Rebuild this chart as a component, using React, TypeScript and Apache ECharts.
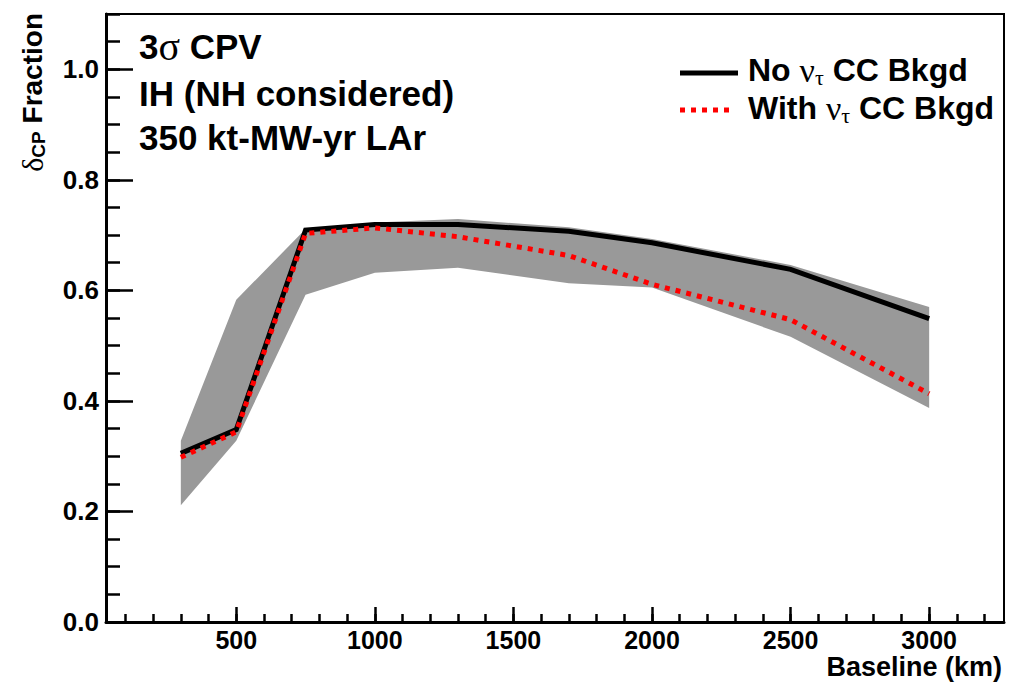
import React, { useEffect, useRef } from "react";
import * as echarts from "echarts";

// Data
const baseline = [300, 500, 750, 1000, 1300, 1700, 2000, 2500, 3000];
const noBkgd = [0.305, 0.348, 0.709, 0.719, 0.719, 0.707, 0.686, 0.638, 0.549];
const withBkgd = [0.298, 0.344, 0.703, 0.713, 0.697, 0.663, 0.611, 0.547, 0.413];
const bandUpper = [0.328, 0.583, 0.711, 0.723, 0.729, 0.714, 0.693, 0.646, 0.57];
const bandLower = [0.211, 0.328, 0.592, 0.632, 0.641, 0.613, 0.605, 0.516, 0.387];

const xMajorTicks = [500, 1000, 1500, 2000, 2500, 3000];
const yMajorTicks = [0, 0.2, 0.4, 0.6, 0.8, 1.0];
const xMinorTicks = Array.from({ length: 32 }, (_, i) => (i + 1) * 100);
const yMinorTicks = Array.from({ length: 22 }, (_, i) => +((i + 1) * 0.05).toFixed(2));

const X_MIN = 30;
const X_MAX = 3270;
const Y_MIN = 0;
const Y_MAX = 1.1;

const SANS = "'Liberation Sans', Arial, Helvetica, sans-serif";
const SERIF = "'Liberation Serif', 'DejaVu Serif', serif";

export default function App() {
  const ref = useRef<HTMLDivElement>(null);

  useEffect(() => {
    if (!ref.current) return;
    const chart = echarts.init(ref.current, undefined, { renderer: "svg" });

    const gridRect = { left: 106, top: 14, right: 5, bottom: 64 };

    const bandData = baseline.map((x, i) => [x, bandUpper[i], bandLower[i]]);

    const legendRich = {
      b: { fontFamily: SANS, fontWeight: "bold", fontSize: 32, fill: "#000", lineHeight: 36 },
      g: { fontFamily: SERIF, fontSize: 34, fill: "#000", lineHeight: 36 },
      s: { fontFamily: SERIF, fontSize: 22, fill: "#000", lineHeight: 20, verticalAlign: "bottom" },
    };

    const option: any = {
      animation: false,
      backgroundColor: "#ffffff",
      grid: [
        { ...gridRect, show: true, borderColor: "#000", borderWidth: 2, containLabel: false },
        { ...gridRect, show: false, containLabel: false },
      ],
      xAxis: [
        {
          type: "value",
          gridIndex: 0,
          min: X_MIN,
          max: X_MAX,
          position: "bottom",
          axisLine: { show: true, onZero: false, lineStyle: { color: "#000", width: 3 } },
          axisTick: {
            show: true,
            inside: true,
            length: 15,
            customValues: xMajorTicks,
            lineStyle: { color: "#000", width: 2.5 },
          },
          axisLabel: {
            show: true,
            customValues: xMajorTicks,
            formatter: (v: number) => String(v),
            color: "#000",
            fontFamily: SANS,
            fontWeight: "bold",
            fontSize: 25,
            margin: 5,
          },
          splitLine: { show: false },
        },
        {
          type: "value",
          gridIndex: 1,
          min: X_MIN,
          max: X_MAX,
          position: "bottom",
          axisLine: { show: false, onZero: false },
          axisTick: {
            show: true,
            inside: true,
            length: 8,
            customValues: xMinorTicks,
            lineStyle: { color: "#000", width: 2.5 },
          },
          axisLabel: { show: false },
          splitLine: { show: false },
        },
      ],
      yAxis: [
        {
          type: "value",
          gridIndex: 0,
          min: Y_MIN,
          max: Y_MAX,
          position: "left",
          axisLine: { show: true, onZero: false, lineStyle: { color: "#000", width: 3 } },
          axisTick: {
            show: true,
            inside: true,
            length: 27,
            customValues: yMajorTicks,
            lineStyle: { color: "#000", width: 2.5 },
          },
          axisLabel: {
            show: true,
            customValues: yMajorTicks,
            formatter: (v: number) => v.toFixed(1),
            color: "#000",
            fontFamily: SANS,
            fontWeight: "bold",
            fontSize: 26,
            margin: 7,
          },
          splitLine: { show: false },
        },
        {
          type: "value",
          gridIndex: 1,
          min: Y_MIN,
          max: Y_MAX,
          position: "left",
          axisLine: { show: false, onZero: false },
          axisTick: {
            show: true,
            inside: true,
            length: 14,
            customValues: yMinorTicks,
            lineStyle: { color: "#000", width: 2.5 },
          },
          axisLabel: { show: false },
          splitLine: { show: false },
        },
      ],
      series: [
        {
          type: "custom",
          name: "band",
          xAxisIndex: 0,
          yAxisIndex: 0,
          data: [bandData[0]],
          z: 1,
          silent: true,
          renderItem: (params: any, api: any) => {
            const upper = baseline.map((x, i) => api.coord([x, bandUpper[i]]));
            const lower = baseline.map((x, i) => api.coord([x, bandLower[i]])).reverse();
            return {
              type: "polygon",
              shape: { points: upper.concat(lower) },
              style: { fill: "#999999", stroke: "none" },
            };
          },
        },
        {
          type: "line",
          name: "No ντ CC Bkgd",
          xAxisIndex: 0,
          yAxisIndex: 0,
          data: baseline.map((x, i) => [x, noBkgd[i]]),
          showSymbol: false,
          symbol: "none",
          z: 3,
          lineStyle: { color: "#000000", width: 5, cap: "butt", join: "miter" },
        },
        {
          type: "line",
          name: "With ντ CC Bkgd",
          xAxisIndex: 0,
          yAxisIndex: 0,
          data: baseline.map((x, i) => [x, withBkgd[i]]),
          showSymbol: false,
          symbol: "none",
          z: 4,
          lineStyle: { color: "#ff0000", width: 5, type: [5, 6], cap: "butt" },
        },
      ],
      graphic: [
        // Annotation block
        {
          type: "text",
          x: 139,
          y: 46,
          z: 10,
          style: {
            text: "{b|3}{g|σ}{b| CPV}",
            verticalAlign: "middle",
            rich: {
              b: { fontFamily: SANS, fontWeight: "bold", fontSize: 35, fill: "#000", lineHeight: 40 },
              g: { fontFamily: SERIF, fontSize: 40, fill: "#000", lineHeight: 40 },
            },
          },
        },
        {
          type: "text",
          x: 139,
          y: 93,
          z: 10,
          style: { text: "IH (NH considered)", font: `bold 35px ${SANS}`, fill: "#000", verticalAlign: "middle" },
        },
        {
          type: "text",
          x: 139,
          y: 137,
          z: 10,
          style: { text: "350 kt-MW-yr LAr", font: `bold 35px ${SANS}`, fill: "#000", verticalAlign: "middle" },
        },
        // Legend
        {
          type: "line",
          z: 10,
          shape: { x1: 680, y1: 73, x2: 738, y2: 73 },
          style: { stroke: "#000", lineWidth: 5 },
        },
        {
          type: "line",
          z: 10,
          shape: { x1: 680, y1: 110, x2: 735, y2: 110 },
          style: { stroke: "#ff0000", lineWidth: 5, lineDash: [5, 6] },
        },
        {
          type: "text",
          x: 748,
          y: 70,
          z: 10,
          style: {
            text: "{b|No }{g|ν}{s|τ}{b| CC Bkgd}",
            verticalAlign: "middle",
            align: "left",
            rich: legendRich,
          },
        },
        {
          type: "text",
          x: 748,
          y: 108,
          z: 10,
          style: {
            text: "{b|With }{g|ν}{s|τ}{b| CC Bkgd}",
            verticalAlign: "middle",
            align: "left",
            rich: legendRich,
          },
        },
        // Y axis title (rotated)
        {
          type: "text",
          x: 32,
          y: 13,
          rotation: Math.PI / 2,
          z: 10,
          style: {
            text: "{g|δ}{s|CP}{b| Fraction}",
            align: "right",
            verticalAlign: "middle",
            rich: {
              b: { fontFamily: SANS, fontWeight: "bold", fontSize: 28, fill: "#000", lineHeight: 32 },
              g: { fontFamily: SERIF, fontSize: 30, fill: "#000", lineHeight: 32 },
              s: { fontFamily: SANS, fontWeight: "bold", fontSize: 19, fill: "#000", lineHeight: 18, verticalAlign: "bottom" },
            },
          },
        },
        // X axis title
        {
          type: "text",
          x: 1002,
          y: 667,
          z: 10,
          style: {
            text: "Baseline (km)",
            font: `bold 27px ${SANS}`,
            fill: "#000",
            align: "right",
            verticalAlign: "middle",
          },
        },
      ],
    };

    chart.setOption(option);
    return () => chart.dispose();
  }, []);

  return (
    <div
      ref={ref}
      style={{ position: "fixed", left: 0, top: 0, width: 1009, height: 686, background: "#fff" }}
    />
  );
}
